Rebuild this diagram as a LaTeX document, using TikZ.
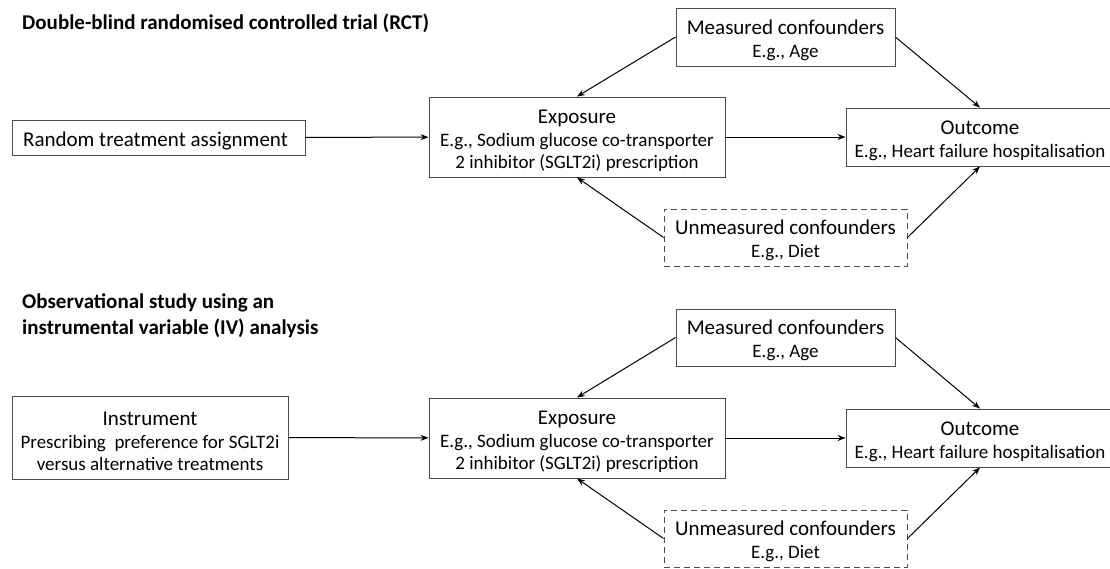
\documentclass[tikz,border=0pt]{standalone}
\usepackage{fontspec}
\setmainfont{Carlito}
\usetikzlibrary{arrows.meta}
\newcommand\hdtxt[1]{{\fontsize{21}{22}\selectfont\rule{0pt}{21pt}#1}}
\begin{document}
\begin{tikzpicture}[x=1pt,y=-1pt,
  box/.style={draw=black!70,line width=0.9pt,inner sep=0pt,align=center,
    font=\fontsize{19}{22}\selectfont},
  dbox/.style={box,dashed,dash pattern=on 6pt off 4pt},
  arr/.style={-{Stealth[length=8pt,width=6pt]},line width=1pt,black},
  ttl/.style={inner sep=0pt,align=left,anchor=north west,
    font=\fontsize{21}{26}\selectfont\bfseries}]
\useasboundingbox (0,0) rectangle (1110,568);
% ---------- top panel
\node[ttl] (t1) at (22,14) {Double-blind randomised controlled trial (RCT)};
\node[box,minimum width=293pt,minimum height=35pt] (rand) at (158.5,137.5) {\hspace*{-6pt}\hdtxt{Random treatment assignment}};
\node[box,minimum width=296pt,minimum height=80pt] (exp1) at (577,137) {\hdtxt{Exposure}\\[1pt]E.g., Sodium glucose co-transporter\\2 inhibitor (SGLT2i) prescription};
\node[box,minimum width=219pt,minimum height=58pt] (meas1) at (785.5,37) {\hdtxt{Measured confounders}\\[1pt]E.g., Age};
\node[dbox,minimum width=243pt,minimum height=57pt] (unm1) at (785.5,237.5) {\hdtxt{Unmeasured confounders}\\[1pt]E.g., Diet};
\node[box,minimum width=268pt,minimum height=58pt] (out1) at (980,137) {\hdtxt{Outcome}\\[1pt]E.g., Heart failure hospitalisation};
\draw[arr] (rand) -- (exp1);
\draw[arr] (exp1) -- (out1);
\draw[arr] (meas1.west) -- (exp1.north);
\draw[arr] (meas1.east) -- (out1.north);
\draw[arr] (unm1.west) -- (exp1.south);
\draw[arr] (unm1.east) -- (out1.south);
% ---------- bottom panel
\node[ttl] (t2) at (22,294) {Observational study using an\\instrumental variable (IV) analysis};
\node[box,minimum width=276pt,minimum height=83pt] (inst) at (150,437.5) {\hdtxt{Instrument}\\[1pt]Prescribing\ \ preference for SGLT2i\\versus alternative treatments};
\node[box,minimum width=296pt,minimum height=80pt] (exp2) at (577,438) {\hdtxt{Exposure}\\[1pt]E.g., Sodium glucose co-transporter\\2 inhibitor (SGLT2i) prescription};
\node[box,minimum width=219pt,minimum height=57pt] (meas2) at (785.5,337.5) {\hdtxt{Measured confounders}\\[1pt]E.g., Age};
\node[dbox,minimum width=243pt,minimum height=57pt] (unm2) at (785.5,538.5) {\hdtxt{Unmeasured confounders}\\[1pt]E.g., Diet};
\node[box,minimum width=268pt,minimum height=58pt] (out2) at (980,438) {\hdtxt{Outcome}\\[1pt]E.g., Heart failure hospitalisation};
\draw[arr] (inst) -- (exp2);
\draw[arr] (exp2) -- (out2);
\draw[arr] (meas2.west) -- (exp2.north);
\draw[arr] (meas2.east) -- (out2.north);
\draw[arr] (unm2.west) -- (exp2.south);
\draw[arr] (unm2.east) -- (out2.south);
\end{tikzpicture}
\end{document}
